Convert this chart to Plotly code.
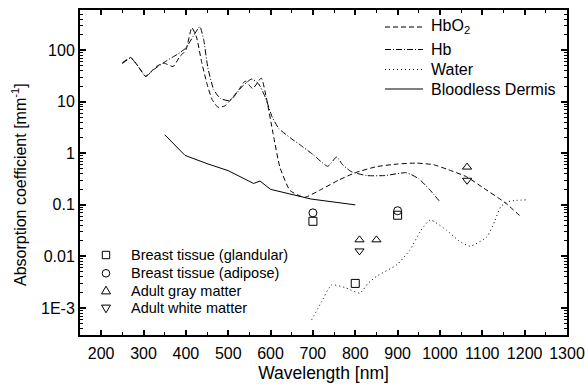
import plotly.graph_objects as go

# ---- data ----
hbo2_wl = [250, 270, 290, 305, 330, 348, 370, 385, 400, 414, 425, 437, 450, 462, 476, 492, 510, 525, 540, 558, 578, 590, 606, 622, 646, 680, 720, 760, 800, 850, 900, 945, 985, 1020, 1063, 1100, 1154, 1193]
hbo2_mu = [57, 72, 45, 31, 48, 56, 48, 74, 100, 273, 180, 60, 22, 11, 7.8, 8.3, 12, 17, 25, 18, 28.7, 12, 2.4, 0.54, 0.19, 0.14, 0.2, 0.3, 0.42, 0.55, 0.62, 0.645, 0.6, 0.48, 0.35, 0.22, 0.11, 0.057]

hb_wl = [250, 270, 290, 305, 326, 354, 381, 400, 418, 433, 442, 452, 466, 482, 504, 531, 555, 572, 588, 604, 620, 650, 670, 700, 735, 756, 770, 791, 827, 870, 921, 950, 975, 998]
hb_mu = [55, 70, 45, 31, 43, 62, 84, 110, 190, 285, 160, 45, 17, 11.5, 10.5, 19, 27.5, 22, 12, 5, 3, 1.9, 1.45, 0.95, 0.56, 0.85, 0.6, 0.44, 0.37, 0.37, 0.42, 0.32, 0.2, 0.12]

water_wl = [697, 720, 744, 775, 811, 830, 850, 898, 929, 955, 977, 1016, 1045, 1071, 1111, 1130, 1143, 1160, 1180, 1205]
water_mu = [0.00059, 0.0013, 0.0028, 0.0025, 0.00195, 0.003, 0.0041, 0.0069, 0.0133, 0.032, 0.051, 0.032, 0.02, 0.0158, 0.024, 0.05, 0.091, 0.115, 0.122, 0.125]

dermis_wl = [350, 398, 450, 500, 560, 575, 600, 695, 800]
dermis_mu = [2.29, 0.91, 0.63, 0.46, 0.26, 0.29, 0.2, 0.13, 0.10]

glandular_wl = [700, 800, 900]
glandular_mu = [0.048, 0.003, 0.063]
adipose_wl = [700, 900]
adipose_mu = [0.070, 0.077]
gray_wl = [810, 850, 1064]
gray_mu = [0.021, 0.021, 0.54]
white_wl = [810, 1064]
white_mu = [0.0128, 0.30]

line_names = ["HbO<sub>2</sub>", "Hb", "Water", "Bloodless Dermis"]
marker_names = ["Breast tissue (glandular)", "Breast tissue (adipose)", "Adult gray matter", "Adult white matter"]

x_ticks = [200, 300, 400, 500, 600, 700, 800, 900, 1000, 1100, 1200, 1300]
y_tickvals = [0.001, 0.01, 0.1, 1, 10, 100]
y_ticktext = ["1E-3", "0.01", "0.1", "1", "10", "100"]

FONT = "Liberation Sans, Arial, sans-serif"
DASHES = ["5px,3px", "6px,2px,1px,2px", "1px,3px", "solid"]

fig = go.Figure()
curves = [(hbo2_wl, hbo2_mu), (hb_wl, hb_mu), (water_wl, water_mu), (dermis_wl, dermis_mu)]
for i, (wl, mu) in enumerate(curves):
    ln = dict(color="black", width=1, dash=DASHES[i])
    if i < 3:
        ln.update(shape="spline", smoothing=0.5)
    fig.add_trace(go.Scatter(x=wl, y=mu, mode="lines", name=line_names[i], line=ln))

symbols = ["square-open", "circle-open", "triangle-up-open", "triangle-down-open"]
pts = [(glandular_wl, glandular_mu), (adipose_wl, adipose_mu), (gray_wl, gray_mu), (white_wl, white_mu)]
for i, (wl, mu) in enumerate(pts):
    fig.add_trace(go.Scatter(x=wl, y=mu, mode="markers", name=marker_names[i],
                             marker=dict(symbol=symbols[i], color="black", size=8,
                                         line=dict(color="black", width=1))))

# ---- hand-built legends (paper coordinates) ----
PW, PH, PL, PT = 487.0, 325.0, 80.0, 10.0
def px(x):
    return (x - PL) / PW
def py(y):
    return 1 - (y - PT) / PH

shapes = []
annotations = []
top_rows = [27, 49.5, 69.5, 89]
for i, name in enumerate(line_names):
    y = py(top_rows[i])
    shapes.append(dict(type="line", xref="paper", yref="paper", x0=px(385), x1=px(423), y0=y, y1=y,
                       line=dict(color="black", width=1, dash=DASHES[i])))
    annotations.append(dict(text=name, xref="paper", yref="paper", x=px(429), y=y,
                            xanchor="left", yanchor="middle", showarrow=False,
                            font=dict(size=16, family=FONT, color="black")))

bot_rows = [255, 273.3, 290.7, 308.3]
sym_paths = [None, None, "M -4.5 -3.2 L 4.5 -3.2 L 0 4.5 Z", "M -4.5 3.2 L 4.5 3.2 L 0 -4.5 Z"]
for i, name in enumerate(marker_names):
    y = py(bot_rows[i])
    base = dict(xref="paper", yref="paper", xsizemode="pixel", ysizemode="pixel",
                xanchor=px(106), yanchor=y, line=dict(color="black", width=1), fillcolor="rgba(0,0,0,0)")
    if i == 0:
        shapes.append(dict(type="rect", x0=-3.7, x1=3.7, y0=-3.7, y1=3.7, **base))
    elif i == 1:
        shapes.append(dict(type="circle", x0=-3.8, x1=3.8, y0=-3.8, y1=3.8, **base))
    else:
        shapes.append(dict(type="path", path=sym_paths[i], **base))
    annotations.append(dict(text=name, xref="paper", yref="paper", x=px(128.5), y=y,
                            xanchor="left", yanchor="middle", showarrow=False,
                            font=dict(size=14.5, family=FONT, color="black")))

# y-axis title as annotation (placed like the reference)
annotations.append(dict(text="Absorption coefficient [mm<sup>-1</sup>]", xref="paper", yref="paper",
                        x=px(19), y=py(185), xanchor="center", yanchor="middle", textangle=-90,
                        showarrow=False, font=dict(size=16, family=FONT, color="black")))

minor_y = [m * 10 ** e for e in range(-4, 3) for m in range(2, 10)]

fig.update_layout(
    width=585, height=388,
    margin=dict(l=80, r=18, t=10, b=53),
    paper_bgcolor="white", plot_bgcolor="white",
    font=dict(family=FONT, size=16, color="black"),
    showlegend=False,
    shapes=shapes,
    annotations=annotations,
    xaxis=dict(range=[150, 1300], tickmode="array", tickvals=x_ticks, automargin=False,
               ticks="inside", ticklen=5, tickwidth=1.5, tickcolor="black", ticklabelstandoff=3,
               showline=True, linecolor="black", linewidth=2, mirror="ticks",
               showgrid=False, zeroline=False,
               minor=dict(tickmode="linear", tick0=150, dtick=100, ticks="inside", ticklen=3, tickwidth=1, tickcolor="black", showgrid=False),
               title=dict(text="Wavelength [nm]", font=dict(size=17.5), standoff=6),
               tickfont=dict(size=16)),
    yaxis=dict(type="log", range=[-3.523, 2.778], tickmode="array", tickvals=y_tickvals, ticktext=y_ticktext,
               automargin=False,
               ticks="inside", ticklen=6, tickwidth=1.5, tickcolor="black",
               showline=True, linecolor="black", linewidth=2, mirror="ticks",
               showgrid=False, zeroline=False,
               minor=dict(tickmode="array", tickvals=minor_y, ticks="inside", ticklen=3, tickwidth=1, tickcolor="black", showgrid=False),
               tickfont=dict(size=16)),
)

fig.write_html("out.html")
